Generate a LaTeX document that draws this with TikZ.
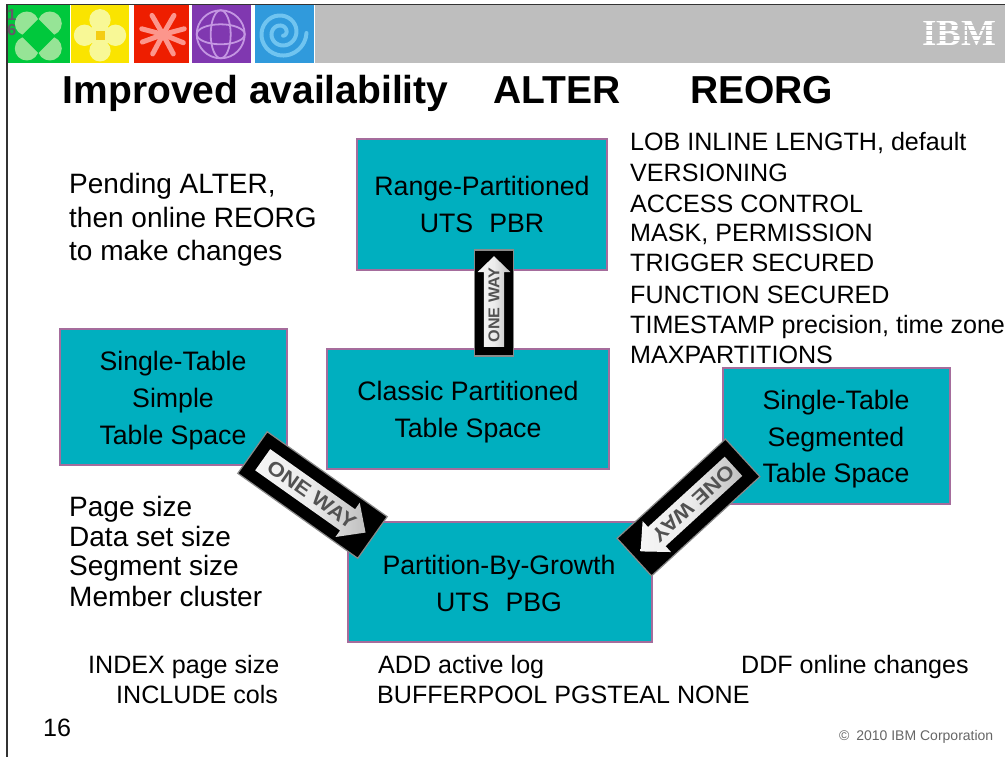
\documentclass[tikz,border=0pt]{standalone}
\usepackage{fontspec}
\setmainfont{Liberation Sans}
\newfontfamily\logofont{Liberation Serif}
\usetikzlibrary{calc}
\definecolor{teal1}{HTML}{00AFBF}
\definecolor{edge1}{HTML}{A56C9C}
\definecolor{bar1}{HTML}{BEBEBE}
\definecolor{signgrey}{HTML}{8A8A8A}
\definecolor{grn}{RGB}{0,200,60}
\definecolor{grnl}{RGB}{150,228,150}
\definecolor{numgrey}{RGB}{102,88,104}
\definecolor{yel}{RGB}{250,228,0}
\definecolor{yell}{RGB}{248,248,150}
\definecolor{yelc}{RGB}{245,205,20}
\definecolor{redd}{RGB}{238,30,0}
\definecolor{redl}{RGB}{252,150,140}
\definecolor{pur}{RGB}{128,56,176}
\definecolor{purl}{RGB}{196,150,226}
\definecolor{blu}{RGB}{48,154,220}
\definecolor{blul}{RGB}{112,196,240}
\tikzset{
  tbox/.style={fill=teal1,draw=edge1,line width=2.7pt},
  body/.style={anchor=base west,font=\fontsize{25.1}{30}\selectfont,inner sep=0pt,text=black},
  note/.style={anchor=base west,font=\fontsize{28}{30}\selectfont,inner sep=0pt,text=black},
  boxtext/.style={anchor=base,font=\fontsize{26.7}{30}\selectfont,inner sep=0pt,text=black},
  titletext/.style={anchor=base west,font=\fontsize{39}{42}\selectfont\bfseries,inner sep=0pt,text=black},
  signtext/.style={font=\fontsize{20}{20}\selectfont\bfseries,text=black!68,inner sep=0pt},
  tilelabel/.style={inner sep=0pt,font=\fontsize{16}{16}\selectfont\bfseries,text=numgrey},
}
% centre x, centre y, angle, x scale, y scale, node name, text offset along the arrow
\newcommand{\onewaysign}[7]{%
  \begin{scope}[shift={(#1,-#2)},rotate=#3,xscale=#4,yscale=#5]
    \fill[black,draw=signgrey,line width=1.2pt] (-73.5,-25.5) rectangle (73.5,25.5);
    \fill[left color=white!92!gray,right color=white!50!gray,middle color=white!85!gray]
      (-61,-13) -- (43,-13) -- (43,-21) -- (65,0) -- (43,21) -- (43,13) -- (-61,13) -- cycle;
  \end{scope}
  \node[signtext,rotate=#3,xscale=1.12*#4,yscale=#5] (#6) at ($(#1,-#2)+(#3:#7)$) {ONE WAY};
}
\begin{document}
\begin{tikzpicture}[x=1pt,y=1pt]
\useasboundingbox (0,0) rectangle (1005,-757);
\fill[white] (0,0) rectangle (1005,-757);
% header
\fill[bar1] (315,-5) rectangle (1005,-63);
\draw[black!80,line width=1.2pt] (7,-757) -- (7,-4.5) -- (1005,-4.5);
% green
\fill[grn] (8,-5) rectangle (70,-63);
\foreach \a/\b in {-11.5/-12.5,11.5/-12.5,-11.5/12.5,11.5/12.5}
  \fill[grnl] (38.3+\a,-36+\b) circle (12);
\fill[grn] (38.3,-36-17) -- (38.3+17,-36) -- (38.3,-36+17) -- (38.3-17,-36) -- cycle;
\node[tilelabel] (one) at (11.7,-15.3) {1};
\node[tilelabel] (six) at (11.7,-30.3) {6};
% yellow
\fill[yel] (71,-5) rectangle (129,-63);
\foreach \a/\b in {0/-15.5,0/15.5,-15.5/0,15.5/0}
  \fill[yell] (100+\a,-35.3+\b) circle (10.7);
\fill[yell] (92,-43.3) rectangle (108,-27.3);
\fill[yelc] (95.5,-39.8) rectangle (104.5,-30.8);
% red
\fill[redd] (134,-5) rectangle (189,-63);
\foreach \t in {15,60,120,165,200,242,298,338}
  \draw[redl,line width=5pt,line cap=round] (163,-34.5) -- ++(\t:22);
% purple
\fill[pur] (192,-5) rectangle (251,-63);
\begin{scope}[draw=purl,line width=1.8pt]
  \draw (220.7,-34.3) circle (24);
  \draw (220.7,-34.3) ellipse (10 and 24);
  \draw (220.7,-34.3) ellipse (24 and 10);
\end{scope}
% blue
\fill[blu] (255,-5) rectangle (314,-63);
\draw[blul,line width=4pt,line cap=round]
  plot[smooth,samples=70,domain=0:780] ({281.5+(25-\x*0.028)*cos(-\x)},{-33+(25-\x*0.028)*sin(-\x)});
% IBM logo
\node[inner sep=0pt,text=white,font=\logofont\bfseries\fontsize{37}{37}\selectfont] (ibm) at (959,-33) {IBM};
\foreach \y in {20.5,25.5,30.5,35.5,40.5,45.5}
  \draw[bar1,line width=1.4pt] (920,-\y) -- (997,-\y);
% title
\node[titletext] (t1) at (62.5,-104) {Improved availability};
\node[titletext] (t2) at (493,-104) {ALTER};
\node[titletext] (t3) at (690,-104) {REORG};
% boxes
\draw[tbox] (357,-139) rectangle (607,-270);
\draw[tbox] (327,-349) rectangle (609,-469);
\draw[tbox] (60,-329) rectangle (287,-465);
\draw[tbox] (723,-368) rectangle (950,-504);
\draw[tbox] (348,-522) rectangle (652,-642);
% box texts
\node[boxtext] (r1) at (482,-196) {Range-Partitioned};
\node[boxtext] (r2) at (482,-233) {UTS\hspace{0.6em}PBR};
\node[boxtext] (c1) at (468,-400) {Classic Partitioned};
\node[boxtext] (c2) at (468,-437) {Table Space};
\node[boxtext] (s1) at (173,-370) {Single-Table};
\node[boxtext] (s2) at (173,-407) {Simple};
\node[boxtext] (s3) at (173,-444) {Table Space};
\node[boxtext] (g1) at (836,-409) {Single-Table};
\node[boxtext] (g2) at (836,-446) {Segmented};
\node[boxtext] (g3) at (836,-482) {Table Space};
\node[boxtext] (p1) at (499,-574) {Partition-By-Growth};
\node[boxtext] (p2) at (499,-611) {UTS\hspace{0.6em}PBG};
% left notes
\node[note] (n1) at (69,-194) {Pending ALTER,};
\node[note] (n2) at (69,-228) {then online REORG};
\node[note] (n3) at (69,-261) {to make changes};
\node[note] (l1) at (69,-516) {Page size};
\node[note] (l2) at (69,-546) {Data set size};
\node[note] (l3) at (69,-575) {Segment size};
\node[note] (l4) at (69,-606) {Member cluster};
% right list
\node[body] (a1) at (630,-151) {LOB INLINE LENGTH, default};
\node[body] (a2) at (630,-182) {VERSIONING};
\node[body] (a3) at (630,-212) {ACCESS CONTROL};
\node[body] (a4) at (630,-242) {MASK, PERMISSION};
\node[body] (a5) at (630,-272) {TRIGGER SECURED};
\node[body] (a6) at (630,-303) {FUNCTION SECURED};
\node[body] (a7) at (630,-333) {TIMESTAMP precision, time zone};
\node[body] (a8) at (630,-363) {MAXPARTITIONS};
% bottom
\node[body] (b1) at (88,-673) {INDEX page size};
\node[body] (b2) at (116,-703) {INCLUDE cols};
\node[body] (b3) at (378,-673) {ADD active log};
\node[body] (b4) at (377,-703) {BUFFERPOOL PGSTEAL NONE};
\node[body] (b5) at (741,-673) {DDF online changes};
\node[body] (num) at (43,-736) {16};
\node[anchor=base east,inner sep=0pt,font=\fontsize{14}{14}\selectfont,text=black!60] (copy) at (993.5,-740) {©\hspace{3pt} 2010 IBM Corporation};
% signs
\onewaysign{494}{303}{90}{0.72}{0.78}{w1}{-2}
\onewaysign{312.5}{495}{-35.3}{1}{1}{w2}{-1}
\onewaysign{688.5}{507.5}{222.5}{1}{1}{w3}{-6}
\end{tikzpicture}
\end{document}
